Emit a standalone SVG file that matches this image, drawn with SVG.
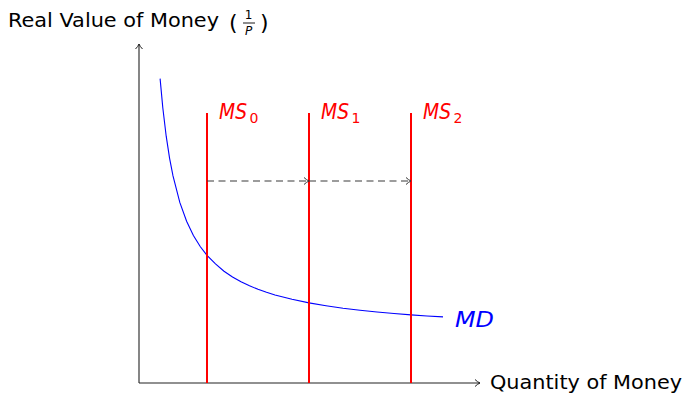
<svg xmlns="http://www.w3.org/2000/svg" width="685" height="395" viewBox="0 0 685 395">
<defs>
<marker id="ah" markerWidth="10" markerHeight="10" refX="6" refY="5" orient="auto" markerUnits="userSpaceOnUse">
<path d="M1,1.5 Q3.5,4 6,5 Q3.5,6 1,8.5" fill="none" stroke="#222" stroke-width="1"/>
</marker>
<marker id="ahd" markerWidth="10" markerHeight="10" refX="6" refY="5" orient="auto" markerUnits="userSpaceOnUse">
<path d="M1,1.5 Q3.5,4 6,5 Q3.5,6 1,8.5" fill="none" stroke="#333" stroke-width="1"/>
</marker>
</defs>
<style>
.t{font-family:"DejaVu Sans","Liberation Sans",sans-serif;font-size:19.5px;fill:#000}
.ms{stroke:#ff0000;stroke-width:2;fill:none}
.lr{font-family:"DejaVu Sans","Liberation Sans",sans-serif;font-style:italic;font-size:21px;fill:#ff0000}
.sub{font-family:"DejaVu Sans","Liberation Sans",sans-serif;font-size:14px;fill:#ff0000}
.axis{stroke:#222;stroke-width:1.1;fill:none}
.dash{stroke:#3a3a3a;stroke-width:1.1;stroke-dasharray:7,4.5;fill:none}
</style>
<rect width="685" height="395" fill="#fff"/>
<g id="axes">
<line class="axis" x1="139" y1="383" x2="139" y2="44" marker-end="url(#ah)"/>
<line class="axis" x1="139" y1="383" x2="480" y2="383" marker-end="url(#ah)"/>
</g>
<g id="ylabel">
<text class="t" x="8" y="27" textLength="211" lengthAdjust="spacingAndGlyphs">Real Value of Money</text>
<text x="229" y="30" font-family="DejaVu Sans,sans-serif" font-size="22">(</text>
<text x="248.5" y="19" font-family="DejaVu Sans,sans-serif" font-size="12" text-anchor="middle">1</text>
<line x1="243" y1="23" x2="255" y2="23" stroke="#000" stroke-width="0.9"/>
<text x="248.5" y="35" font-family="DejaVu Sans,sans-serif" font-size="12" font-style="italic" text-anchor="middle">P</text>
<text x="260" y="30" font-family="DejaVu Sans,sans-serif" font-size="22">)</text>
</g>
<g id="xlabel"><text class="t" x="490" y="389" textLength="192" lengthAdjust="spacingAndGlyphs">Quantity of Money</text></g>
<g id="MD">
<polyline fill="none" stroke="#0000ff" stroke-width="1.1" points="160.1,78.6 162.8,107.8 166.2,136.2 169.6,158.3 173,175.9 179.8,202.4 186.6,221.3 193.4,235.5 200.2,246.5 207,255.3 215.5,263.8 224,271.2 232.5,277 241,281.8 249.5,285.8 258,289.3 266.5,292.3 275,295 292,299.2 309,302.9 326,305.7 343,308.2 360,310.2 377,312 394,313.5 411,314.9 427,316 443,316.9"/>
<text x="455" y="327" font-family="DejaVu Sans,sans-serif" font-style="italic" font-size="21" fill="#0000ff" textLength="39" lengthAdjust="spacingAndGlyphs">MD</text>
</g>
<g id="MS0"><line class="ms" x1="207" y1="113" x2="207" y2="383"/><text class="lr" x="219" y="119" textLength="28" lengthAdjust="spacingAndGlyphs">MS</text><text class="sub" x="249.5" y="123">0</text></g>
<g id="MS1"><line class="ms" x1="309" y1="113" x2="309" y2="383"/><text class="lr" x="321" y="119" textLength="28" lengthAdjust="spacingAndGlyphs">MS</text><text class="sub" x="351.5" y="123">1</text></g>
<g id="MS2"><line class="ms" x1="411" y1="113" x2="411" y2="383"/><text class="lr" x="423" y="119" textLength="28" lengthAdjust="spacingAndGlyphs">MS</text><text class="sub" x="453.5" y="123">2</text></g>
<g id="connectors">
<line class="dash" x1="207" y1="181" x2="309" y2="181" marker-end="url(#ahd)"/>
<line class="dash" x1="309" y1="181" x2="411" y2="181" marker-end="url(#ahd)"/>
</g>
</svg>
